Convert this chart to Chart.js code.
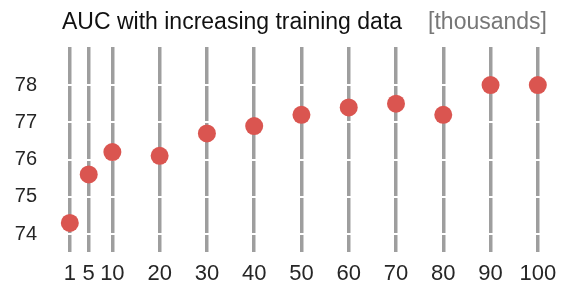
<!DOCTYPE html>
<html>
<head>
<meta charset="utf-8">
<script src="https://cdn.jsdelivr.net/npm/chart.js@4/dist/chart.umd.min.js"></script>
<style>
    html, body { margin: 0; padding: 0; background: #fff; }
    #wrap { width: 561px; height: 285px; }
</style>
</head>
<body>
<div id="wrap"><canvas id="aucChart"></canvas></div>
<script>
// 訓練資料量（千）與 AUC
const trainSizes = [1, 5, 10, 20, 30, 40, 50, 60, 70, 80, 90, 100];
const aucValues = [74.3, 75.6, 76.2, 76.1, 76.7, 76.9, 77.2, 77.4, 77.5, 77.2, 78.0, 78.0];
const yTicks = [74, 75, 76, 77, 78];

const titleText = 'AUC with increasing training data';
const unitText = '[thousands]';

// 標題：黑色主標題 + 灰色單位
const titlePlugin = {
    id: 'twoTone',
    afterDraw(chart) {
        const ctx = chart.ctx;
        ctx.save();
        ctx.font = '23px "Liberation Sans", Arial, sans-serif';
        ctx.textBaseline = 'alphabetic';
        ctx.fillStyle = '#111';
        ctx.textAlign = 'left';
        ctx.fillText(titleText, 62, 29);
        ctx.fillStyle = '#777';
        ctx.textAlign = 'right';
        ctx.fillText(unitText, 547, 29);
        ctx.restore();
    }
};

// 固定繪圖區，不讓標籤撐開邊距
function noPad(scale) {
    scale.paddingTop = 0;
    scale.paddingBottom = 0;
    scale.paddingLeft = 0;
    scale.paddingRight = 0;
}

new Chart(document.getElementById('aucChart'), {
    type: 'scatter',
    data: {
        datasets: [{
            data: trainSizes.map((x, i) => ({ x: x, y: aucValues[i] })),
            backgroundColor: '#da5550',
            borderColor: '#da5550',
            pointRadius: 9,
            pointHoverRadius: 9,
            borderWidth: 0
        }]
    },
    options: {
        responsive: true,
        maintainAspectRatio: false,
        animation: false,
        layout: { padding: { top: 47, right: 8, left: 0, bottom: 0 } },
        plugins: {
            legend: { display: false },
            tooltip: { enabled: false }
        },
        scales: {
            x: {
                type: 'linear',
                min: -1.5,
                max: 103,
                afterBuildTicks: (scale) => {
                    scale.ticks = trainSizes.map(v => ({ value: v }));
                },
                afterFit: (scale) => { scale.height = 33; noPad(scale); },
                grid: { color: '#9e9e9e', lineWidth: 3.5, drawTicks: false },
                border: { display: false },
                ticks: {
                    padding: 9,
                    color: '#262626',
                    autoSkip: false,
                    maxRotation: 0,
                    font: { size: 22, family: '"Liberation Sans", Arial, sans-serif' }
                }
            },
            y: {
                min: 73.52,
                max: 79.02,
                afterBuildTicks: (scale) => {
                    scale.ticks = yTicks.map(v => ({ value: v }));
                },
                afterFit: (scale) => { scale.width = 58; noPad(scale); },
                grid: { color: '#ffffff', lineWidth: 2, drawTicks: false },
                border: { display: false },
                ticks: {
                    padding: 21,
                    color: '#262626',
                    font: { size: 20, family: '"Liberation Sans", Arial, sans-serif' }
                }
            }
        }
    },
    plugins: [titlePlugin]
});
</script>
</body>
</html>
